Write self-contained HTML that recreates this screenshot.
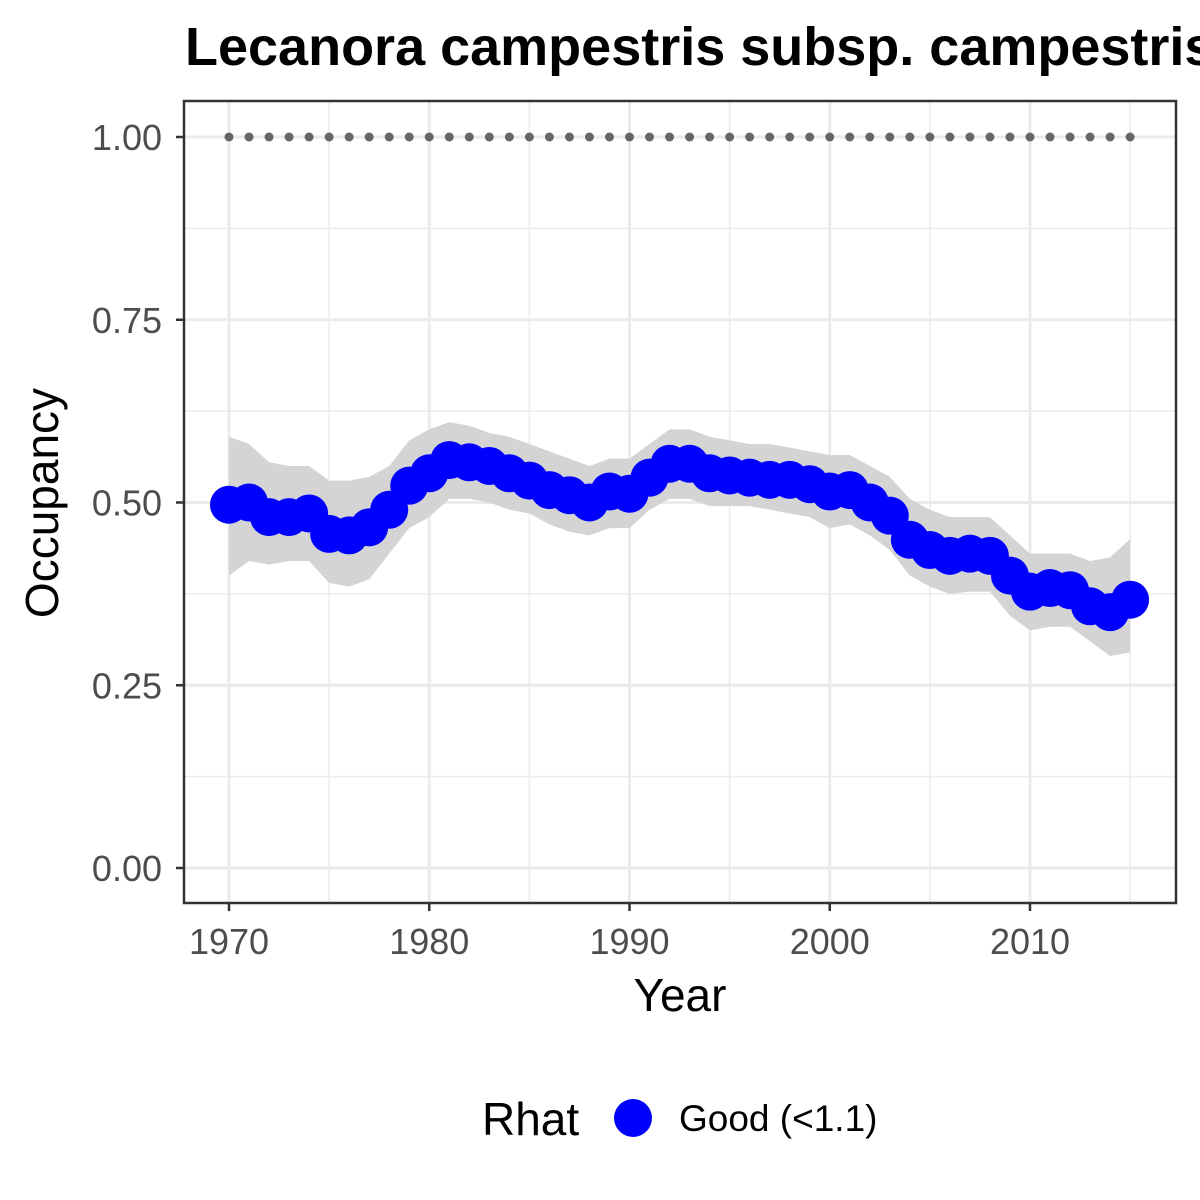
<!DOCTYPE html>
<html><head><meta charset="utf-8"><style>body{margin:0;background:#fff}svg{display:block}</style></head>
<body>
<svg id="chart" width="1200" height="1200" xmlns="http://www.w3.org/2000/svg" font-family="Liberation Sans, Arial, sans-serif"></svg>
<script>
const years=[1970,1971,1972,1973,1974,1975,1976,1977,1978,1979,1980,1981,1982,1983,1984,1985,1986,1987,1988,1989,1990,1991,1992,1993,1994,1995,1996,1997,1998,1999,2000,2001,2002,2003,2004,2005,2006,2007,2008,2009,2010,2011,2012,2013,2014,2015];
const occupancy=[0.497,0.50,0.48,0.48,0.485,0.457,0.455,0.466,0.49,0.523,0.54,0.558,0.555,0.55,0.54,0.53,0.517,0.51,0.50,0.515,0.512,0.534,0.553,0.553,0.54,0.537,0.534,0.531,0.531,0.525,0.515,0.517,0.50,0.482,0.449,0.435,0.427,0.43,0.427,0.40,0.378,0.383,0.38,0.358,0.35,0.367];
const upper=[0.59,0.58,0.555,0.55,0.55,0.53,0.53,0.535,0.55,0.585,0.6,0.61,0.605,0.595,0.59,0.58,0.57,0.56,0.55,0.56,0.56,0.58,0.6,0.6,0.59,0.585,0.58,0.58,0.575,0.57,0.565,0.565,0.55,0.535,0.505,0.49,0.48,0.48,0.48,0.455,0.43,0.43,0.43,0.42,0.425,0.45];
const lower=[0.40,0.42,0.415,0.42,0.42,0.39,0.385,0.395,0.43,0.465,0.48,0.505,0.505,0.5,0.49,0.485,0.47,0.46,0.455,0.465,0.465,0.49,0.505,0.505,0.495,0.495,0.495,0.49,0.485,0.48,0.465,0.47,0.455,0.435,0.4,0.385,0.375,0.378,0.378,0.345,0.325,0.33,0.33,0.31,0.29,0.295];
const xTicks=[1970,1980,1990,2000,2010];
const yTicks=[0,0.25,0.5,0.75,1.0];
const yTickLabels=["0.00","0.25","0.50","0.75","1.00"];

const NS="http://www.w3.org/2000/svg";
const svg=document.getElementById('chart');
const X=v=>229+(v-1970)*20.025;
const Y=v=>868-v*731;
const P={l:184,r:1176,t:101,b:903};
function mk(tag,attrs,parent){const e=document.createElementNS(NS,tag);for(const k in attrs)e.setAttribute(k,attrs[k]);(parent||svg).appendChild(e);return e;}

const grid=mk('g',{});


[0.125,0.375,0.625,0.875].forEach(v=>mk('line',{x1:P.l,x2:P.r,y1:Y(v),y2:Y(v),stroke:'#ebebeb','stroke-width':1.5},grid));
[1975,1985,1995,2005,2015].forEach(v=>mk('line',{x1:X(v),x2:X(v),y1:P.t,y2:P.b,stroke:'#ebebeb','stroke-width':1.5},grid));
yTicks.forEach(v=>mk('line',{x1:P.l,x2:P.r,y1:Y(v),y2:Y(v),stroke:'#ebebeb','stroke-width':3},grid));
xTicks.forEach(v=>mk('line',{x1:X(v),x2:X(v),y1:P.t,y2:P.b,stroke:'#ebebeb','stroke-width':3},grid));

let d='';
years.forEach((y,i)=>{d+=(i?'L':'M')+X(y)+','+Y(upper[i]);});
for(let i=years.length-1;i>=0;i--)d+='L'+X(years[i])+','+Y(lower[i]);
const rib=mk('path',{d:d+'Z',fill:'#d4d4d4'});



const dots=mk('g',{});


years.forEach(y=>mk('circle',{cx:X(y),cy:Y(1),r:4.5,fill:'#666'},dots));

const line=mk('path',{d:years.map((y,i)=>(i?'L':'M')+X(y)+','+Y(occupancy[i])).join(''),fill:'none',stroke:'#0000ff','stroke-width':14});


years.forEach((y,i)=>{const c=mk('circle',{cx:X(y),cy:Y(occupancy[i]),r:19,fill:'#0000ff'});

});

const frame=mk('rect',{x:P.l,y:P.t,width:P.r-P.l,height:P.b-P.t,fill:'none',stroke:'#333','stroke-width':2.5});



yTicks.forEach((v,i)=>{mk('line',{x1:P.l-8,x2:P.l,y1:Y(v),y2:Y(v),stroke:'#333','stroke-width':2.5});
const t=mk('text',{x:P.l-22,y:Y(v)+13,'text-anchor':'end','font-size':36,fill:'#4d4d4d'});t.textContent=yTickLabels[i];

});
xTicks.forEach(v=>{mk('line',{x1:X(v),x2:X(v),y1:P.b,y2:P.b+8,stroke:'#333','stroke-width':2.5});
const t=mk('text',{x:X(v),y:954,'text-anchor':'middle','font-size':36,fill:'#4d4d4d'});t.textContent=v;

});

const xt=mk('text',{x:680,y:1011,'text-anchor':'middle','font-size':46});xt.textContent='Year';


const yt=mk('text',{x:58,y:503,'text-anchor':'middle','font-size':46,transform:'rotate(-90 58 503)'});yt.textContent='Occupancy';


const tt=mk('text',{x:185,y:65,'font-size':54,'font-weight':'bold'});tt.textContent='Lecanora campestris subsp. campestris';



const lg=mk('g',{});


const lt=mk('text',{x:482,y:1135,'font-size':46},lg);lt.textContent='Rhat';
mk('circle',{cx:633,cy:1118,r:19,fill:'#0000ff'},lg);
const le=mk('text',{x:679,y:1131,'font-size':37},lg);le.textContent='Good (<1.1)';


</script>
</body></html>
